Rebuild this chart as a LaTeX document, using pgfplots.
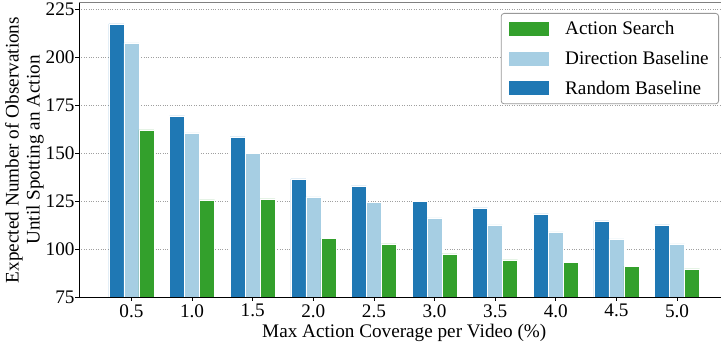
\documentclass[border=0pt]{standalone}
\usepackage{fontspec}
\setmainfont{Liberation Serif}
\usepackage{pgfplots}
\pgfplotsset{compat=1.18}

\definecolor{rndblue}{HTML}{1F78B4}
\definecolor{dirblue}{HTML}{A6CEE3}
\definecolor{asgreen}{HTML}{33A02C}

\newcommand{\chartfont}{\fontsize{19.2bp}{21bp}\selectfont}
% legend swatch: a 40bp x 14bp block followed by a gap before the text
\newcommand{\swatch}[1]{\fill[#1, draw=none, sharp corners] (0bp,-7bp) rectangle (40bp,7bp);
  \path[draw=none, fill=none] (0bp,0bp) -- (54bp,0bp);}

\begin{document}
\begin{tikzpicture}
\useasboundingbox (-79bp,-46bp) rectangle (642bp,297.3bp);
\begin{axis}[
  at={(0,0)}, anchor=south west,
  scale only axis, width=650.5bp, height=294.6bp,
  xmin=-0.865, xmax=9.865, ymin=75, ymax=228.6,
  ybar=0pt, bar width=15bp,
  axis line style={draw=none},
  xtick={0,...,9},
  xticklabels={0.5,1.0,1.5,2.0,2.5,3.0,3.5,4.0,4.5,5.0},
  ytick={75,100,125,150,175,200,225},
  xtick pos=bottom, ytick pos=left,
  tick align=outside, major tick length=3.5bp,
  tick style={black, line width=0.8bp},
  ymajorgrids, grid style={gray!75, dotted, line width=0.8bp},
  /pgf/number format/assume math mode=true,
  ticklabel style={font=\chartfont},
  yticklabel style={xshift=2.5bp},
  label style={font=\chartfont},
  xlabel={Max Action Coverage per Video (\%)},
  ylabel={Expected Number of Observations\\Until Spotting an Action},
  ylabel style={align=center, at={(axis description cs:-0.1138,0.5)},
    anchor=north, inner sep=0pt},
  reverse legend,
  legend style={at={(1,1)}, anchor=north east, xshift=-10.5bp, yshift=-10.3bp,
    draw=gray!80, rounded corners=3bp, line width=0.8bp, font=\chartfont,
    inner xsep=8bp, inner ysep=0.8bp,
    nodes={inner ysep=7.4bp, inner xsep=2bp}},
  legend cell align=left,
]
\addplot[fill=rndblue, draw=white, line width=0.4bp,
  legend image code/.code={\swatch{rndblue}}]
  coordinates {(0,217.6) (1,169.6) (2,158.6) (3,136.7) (4,133.1) (5,124.9) (6,121.6) (7,118.5) (8,114.8) (9,112.7)};
\addlegendentry{Random Baseline}
\addplot[fill=dirblue, draw=white, line width=0.4bp,
  legend image code/.code={\swatch{dirblue}}]
  coordinates {(0,207.7) (1,160.7) (2,149.9) (3,127.3) (4,124.4) (5,116.4) (6,112.7) (7,109.1) (8,105.4) (9,102.8)};
\addlegendentry{Direction Baseline}
\addplot[fill=asgreen, draw=white, line width=0.4bp,
  legend image code/.code={\swatch{asgreen}}]
  coordinates {(0,162.3) (1,125.8) (2,126.3) (3,105.9) (4,102.8) (5,97.6) (6,94.5) (7,93.4) (8,91.3) (9,89.8)};
\addlegendentry{Action Search}
% spines: black left and bottom, grey top
\draw[black, line width=0.9bp] (rel axis cs:0,1) -- (rel axis cs:0,0) -- (rel axis cs:1,0);
\draw[gray, line width=1.4bp] (rel axis cs:0,1) -- (rel axis cs:1,1);
\end{axis}
\end{tikzpicture}
\end{document}
